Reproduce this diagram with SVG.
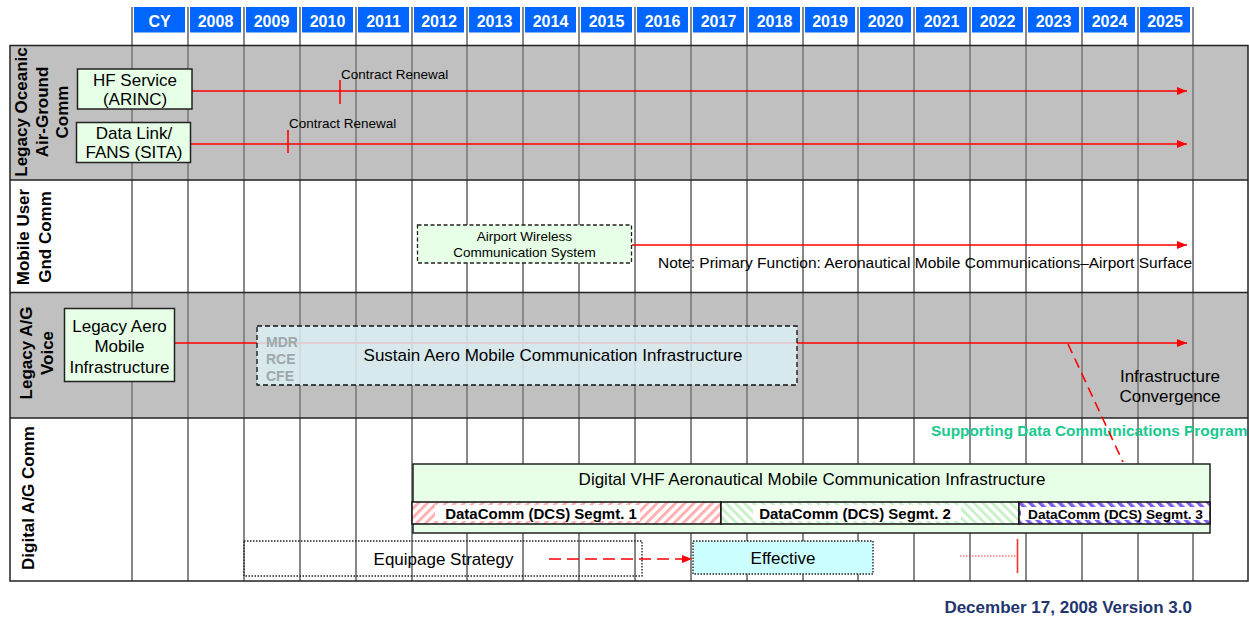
<svg xmlns="http://www.w3.org/2000/svg" width="1249" height="617" viewBox="0 0 1249 617">
<style>
.hd{fill:#0066FF}
.ht{font:bold 16px "Liberation Sans",Arial,sans-serif;fill:#fff;text-anchor:middle}
.gl{stroke:#888;stroke-width:2}
.rb{stroke:#222;stroke-width:1.5;fill:none}
.rl{font:bold 17px "Liberation Sans",Arial,sans-serif;text-anchor:middle;fill:#000}
.nb{fill:#E6FFE6;stroke:#222;stroke-width:1.5}
.t17{font:17px "Liberation Sans",Arial,sans-serif;text-anchor:middle;fill:#000}
.t14{font:15.5px "Liberation Sans",Arial,sans-serif;fill:#000}
.cr{font:13.5px "Liberation Sans",Arial,sans-serif;fill:#000}
.red{stroke:#FF0000;stroke-width:1.6;fill:none}
.seg{font:bold 15px "Liberation Sans",Arial,sans-serif;text-anchor:middle;fill:#000}
.gy{font:bold 14px "Liberation Sans",Arial,sans-serif;fill:#9DA7AB}
</style>
<defs>
<marker id="ah" viewBox="0 0 10 8" refX="10" refY="4" markerWidth="10" markerHeight="8" markerUnits="userSpaceOnUse" orient="auto"><path d="M0,0 L10,4 L0,8 z" fill="#FF0000"/></marker>
<pattern id="p1" width="6.5" height="6.5" patternUnits="userSpaceOnUse" patternTransform="rotate(45)"><rect width="6.5" height="6.5" fill="#fff"/><rect width="3" height="6.5" fill="#FFB0B0"/></pattern>
<pattern id="p2" width="6.5" height="6.5" patternUnits="userSpaceOnUse" patternTransform="rotate(-45)"><rect width="6.5" height="6.5" fill="#fff"/><rect width="3" height="6.5" fill="#C8F2C8"/></pattern>
<pattern id="p3" width="7" height="7" patternUnits="userSpaceOnUse" patternTransform="rotate(-45)"><rect width="7" height="7" fill="#fff"/><rect width="3.5" height="7" fill="#7B5FE6"/></pattern>
</defs>
<rect width="1249" height="617" fill="#fff"/>
<g id="table">
<rect x="10" y="45.5" width="1238" height="134.5" fill="#C0C0C0"/>
<rect x="10" y="180" width="1238" height="112.5" fill="#fff"/>
<rect x="10" y="292.5" width="1238" height="125.5" fill="#C0C0C0"/>
<rect x="10" y="418" width="1238" height="163" fill="#fff"/>
<g class="gl">
<line x1="132" y1="7" x2="132" y2="581"/><line x1="188" y1="7" x2="188" y2="581"/><line x1="244" y1="7" x2="244" y2="581"/><line x1="300" y1="7" x2="300" y2="581"/><line x1="356" y1="7" x2="356" y2="581"/><line x1="412" y1="7" x2="412" y2="581"/><line x1="467" y1="7" x2="467" y2="581"/><line x1="523" y1="7" x2="523" y2="581"/><line x1="579" y1="7" x2="579" y2="581"/><line x1="635" y1="7" x2="635" y2="581"/><line x1="691" y1="7" x2="691" y2="581"/><line x1="747" y1="7" x2="747" y2="581"/><line x1="803" y1="7" x2="803" y2="581"/><line x1="858" y1="7" x2="858" y2="581"/><line x1="914" y1="7" x2="914" y2="581"/><line x1="970" y1="7" x2="970" y2="581"/><line x1="1026" y1="7" x2="1026" y2="581"/><line x1="1082" y1="7" x2="1082" y2="581"/><line x1="1138" y1="7" x2="1138" y2="581"/><line x1="1193" y1="7" x2="1193" y2="581"/>
</g>
<g class="rb">
<rect x="10" y="45.5" width="1238" height="535.5"/>
<line x1="10" y1="180" x2="1248" y2="180"/>
<line x1="10" y1="292.5" x2="1248" y2="292.5"/>
<line x1="10" y1="418" x2="1248" y2="418"/>
</g>
<g id="header">
<rect class="hd" x="134" y="7" width="51" height="25.5"/><text class="ht" x="159.5" y="26.5">CY</text>
<rect class="hd" x="190" y="7" width="51" height="25.5"/><text class="ht" x="215.5" y="26.5">2008</text>
<rect class="hd" x="246" y="7" width="51" height="25.5"/><text class="ht" x="271.5" y="26.5">2009</text>
<rect class="hd" x="302" y="7" width="51" height="25.5"/><text class="ht" x="327.5" y="26.5">2010</text>
<rect class="hd" x="358" y="7" width="51" height="25.5"/><text class="ht" x="383.5" y="26.5">2011</text>
<rect class="hd" x="414" y="7" width="50" height="25.5"/><text class="ht" x="439" y="26.5">2012</text>
<rect class="hd" x="469" y="7" width="51" height="25.5"/><text class="ht" x="494.5" y="26.5">2013</text>
<rect class="hd" x="525" y="7" width="51" height="25.5"/><text class="ht" x="550.5" y="26.5">2014</text>
<rect class="hd" x="581" y="7" width="51" height="25.5"/><text class="ht" x="606.5" y="26.5">2015</text>
<rect class="hd" x="637" y="7" width="51" height="25.5"/><text class="ht" x="662.5" y="26.5">2016</text>
<rect class="hd" x="693" y="7" width="51" height="25.5"/><text class="ht" x="718.5" y="26.5">2017</text>
<rect class="hd" x="749" y="7" width="51" height="25.5"/><text class="ht" x="774.5" y="26.5">2018</text>
<rect class="hd" x="805" y="7" width="50" height="25.5"/><text class="ht" x="830" y="26.5">2019</text>
<rect class="hd" x="860" y="7" width="51" height="25.5"/><text class="ht" x="885.5" y="26.5">2020</text>
<rect class="hd" x="916" y="7" width="51" height="25.5"/><text class="ht" x="941.5" y="26.5">2021</text>
<rect class="hd" x="972" y="7" width="51" height="25.5"/><text class="ht" x="997.5" y="26.5">2022</text>
<rect class="hd" x="1028" y="7" width="51" height="25.5"/><text class="ht" x="1053.5" y="26.5">2023</text>
<rect class="hd" x="1084" y="7" width="51" height="25.5"/><text class="ht" x="1109.5" y="26.5">2024</text>
<rect class="hd" x="1140" y="7" width="50" height="25.5"/><text class="ht" x="1165" y="26.5">2025</text>
</g>
<g id="row-labels">
<text class="rl" transform="translate(27,112) rotate(-90)">Legacy Oceanic</text>
<text class="rl" transform="translate(48,112) rotate(-90)">Air-Ground</text>
<text class="rl" transform="translate(68,112) rotate(-90)">Comm</text>
<text class="rl" transform="translate(29,237) rotate(-90)">Mobile User</text>
<text class="rl" transform="translate(51,237) rotate(-90)">Gnd Comm</text>
<text class="rl" transform="translate(32,353) rotate(-90)">Legacy A/G</text>
<text class="rl" transform="translate(53,353) rotate(-90)">Voice</text>
<text class="rl" transform="translate(34,498) rotate(-90)">Digital A/G Comm</text>
</g>
</g>
<g id="connectors">
<line class="red" x1="192" y1="91" x2="1187" y2="91" marker-end="url(#ah)"/>
<line class="red" x1="340" y1="80" x2="340" y2="104"/>
<line class="red" x1="191" y1="144" x2="1187" y2="144" marker-end="url(#ah)"/>
<line class="red" x1="288" y1="130" x2="288" y2="153"/>
<line class="red" x1="632" y1="245" x2="1187" y2="245" marker-end="url(#ah)"/>
<line class="red" x1="175" y1="343" x2="1187" y2="343" marker-end="url(#ah)"/>
<line class="red" x1="549" y1="559" x2="692" y2="559" stroke-dasharray="12 6" marker-end="url(#ah)"/>
<line x1="960" y1="556" x2="1017" y2="556" stroke="#FF3333" stroke-width="1.2" stroke-dasharray="1.5 1.5"/>
<line x1="1017.5" y1="539" x2="1017.5" y2="573" stroke="#FF3333" stroke-width="1.6"/>
</g>
<g id="labels">
<text class="cr" x="341" y="79">Contract Renewal</text>
<text class="cr" x="289" y="128">Contract Renewal</text>
<text class="t14" x="658" y="268">Note: Primary Function: Aeronautical Mobile Communications–Airport Surface</text>
<text class="t17" x="1170" y="382">Infrastructure</text>
<text class="t17" x="1170" y="402">Convergence</text>
<text x="931" y="436" style="font:bold 15.4px 'Liberation Sans',Arial,sans-serif;fill:#19C98F">Supporting Data Communications Program</text>
</g>
<g id="hf-service">
<rect class="nb" x="77.5" y="69" width="114.5" height="40"/>
<text class="t17" x="135" y="86">HF Service</text>
<text class="t17" x="135" y="105">(ARINC)</text>
</g>
<g id="data-link">
<rect class="nb" x="76.5" y="122.5" width="114" height="40"/>
<text class="t17" x="134" y="139">Data Link/</text>
<text class="t17" x="134" y="158">FANS (SITA)</text>
</g>
<g id="airport-wireless">
<rect x="417.5" y="225" width="214" height="38" fill="#E6FFE6" stroke="#222" stroke-width="1.3" stroke-dasharray="4 2.5"/>
<text x="524.5" y="241" style="font:13.5px 'Liberation Sans',Arial,sans-serif;text-anchor:middle">Airport Wireless</text>
<text x="524.5" y="257" style="font:13.5px 'Liberation Sans',Arial,sans-serif;text-anchor:middle">Communication System</text>
</g>
<g id="legacy-aero">
<rect class="nb" x="64.5" y="308.5" width="110" height="73"/>
<text class="t17" x="119.5" y="332">Legacy Aero</text>
<text class="t17" x="119.5" y="352">Mobile</text>
<text class="t17" x="119.5" y="373">Infrastructure</text>
</g>
<g id="sustain">
<rect x="257" y="326" width="540" height="59" fill="#DDF1F6" fill-opacity="0.82" stroke="#111" stroke-width="1.3" stroke-dasharray="5 3"/>
<text class="gy" x="266" y="347">MDR</text>
<text class="gy" x="266" y="364">RCE</text>
<text class="gy" x="266" y="381">CFE</text>
<text class="t17" x="553" y="361">Sustain Aero Mobile Communication Infrastructure</text>
</g>
<g id="convergence-link">
<line x1="1068" y1="344" x2="1123" y2="462" stroke="#FF0000" stroke-width="1.6" stroke-dasharray="10 6"/>
</g>
<g id="digital-vhf">
<rect class="nb" x="413" y="464" width="797" height="69"/>
<text class="t17" x="812" y="485">Digital VHF Aeronautical Mobile Communication Infrastructure</text>
</g>
<g id="dcs-seg1">
<rect x="412" y="502" width="309" height="22" fill="url(#p1)" stroke="#111" stroke-width="1.5"/>
<rect x="435" y="505" width="205" height="16" fill="#fff"/>
<text class="seg" x="541" y="519">DataComm (DCS) Segmt. 1</text>
</g>
<g id="dcs-seg2">
<rect x="721" y="502" width="298" height="22" fill="url(#p2)" stroke="#111" stroke-width="1.5"/>
<rect x="753" y="505" width="208" height="16" fill="#fff"/>
<text class="seg" x="855" y="519">DataComm (DCS) Segmt. 2</text>
</g>
<g id="dcs-seg3">
<rect x="1019" y="502" width="191" height="22" fill="url(#p3)" stroke="#111" stroke-width="1.5"/>
<rect x="1021" y="507" width="188" height="13" fill="#fff"/>
<text x="1115.5" y="518.5" style="font:bold 13.7px 'Liberation Sans',Arial,sans-serif;text-anchor:middle">DataComm (DCS) Segmt. 3</text>
</g>
<g id="equipage">
<rect x="244" y="541" width="398" height="35" fill="none" stroke="#222" stroke-width="1.4" stroke-dasharray="1.5 1.5"/>
<text class="t17" x="443.5" y="565">Equipage Strategy</text>
</g>
<g id="effective">
<rect x="693" y="541" width="180" height="33" fill="#CCFFFF" stroke="#222" stroke-width="1.4" stroke-dasharray="1.5 1.5"/>
<text class="t17" x="783" y="564">Effective</text>
</g>
<text x="1192" y="613" style="font:bold 17px 'Liberation Sans',Arial,sans-serif;fill:#22346E;text-anchor:end">December 17, 2008 Version 3.0</text>
</svg>
